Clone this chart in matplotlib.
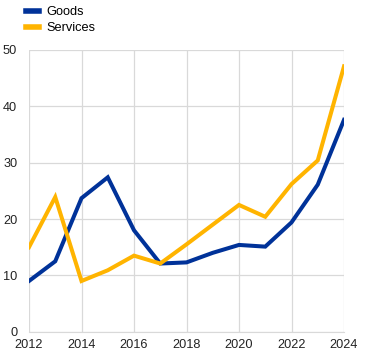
import matplotlib
matplotlib.use("Agg")
import matplotlib.pyplot as plt
from matplotlib.lines import Line2D

years = [2012, 2013, 2014, 2015, 2016, 2017, 2018, 2019, 2020, 2021, 2022, 2023, 2024]
goods = [9.0, 12.5, 23.7, 27.4, 18.0, 12.1, 12.3, 14.0, 15.4, 15.1, 19.4, 26.1, 37.6]
services = [15.0, 23.9, 9.0, 10.9, 13.5, 12.1, 15.5, 19.0, 22.5, 20.4, 26.2, 30.4, 47.1]
xticks = [2012, 2014, 2016, 2018, 2020, 2022, 2024]
yticks = [0, 10, 20, 30, 40, 50]

plt.rcParams['font.family'] = ['Liberation Sans', 'DejaVu Sans']

fig = plt.figure(figsize=(3.88, 3.57), dpi=100)
ax = fig.add_axes([29/388, 1-331.7/357, (344-29)/388, (331.7-50)/357])

ax.plot(years, goods, color='#003299', lw=2.9, solid_joinstyle='miter', zorder=3, label='Goods')
ax.plot(years, services, color='#FFB400', lw=2.9, solid_joinstyle='miter', zorder=3, label='Services')

ax.set_xlim(2012, 2024)
ax.set_ylim(0, 50)
ax.set_xticks(xticks)
ax.set_yticks(yticks)
ax.grid(True, color='#d9d9d9', lw=0.9)
ax.set_axisbelow(True)
for s in ['top', 'right', 'left']:
    ax.spines[s].set_visible(False)
ax.spines['bottom'].set_color('#d9d9d9')
ax.tick_params(axis='both', length=0, labelsize=9.2, colors='#222222')
ax.tick_params(axis='y', pad=8.5)
ax.tick_params(axis='x', pad=5)

handles = [Line2D([0], [0], color='#003299', lw=4.0),
           Line2D([0], [0], color='#FFB400', lw=4.0)]
fig.legend(handles, ['Goods', 'Services'], loc='upper left', bbox_to_anchor=(20/388, 1.0),
           frameon=False, fontsize=9.2, handlelength=1.0, handletextpad=0.6,
           labelspacing=0.3, borderaxespad=0.1)

fig.savefig('out.png', dpi=100)
